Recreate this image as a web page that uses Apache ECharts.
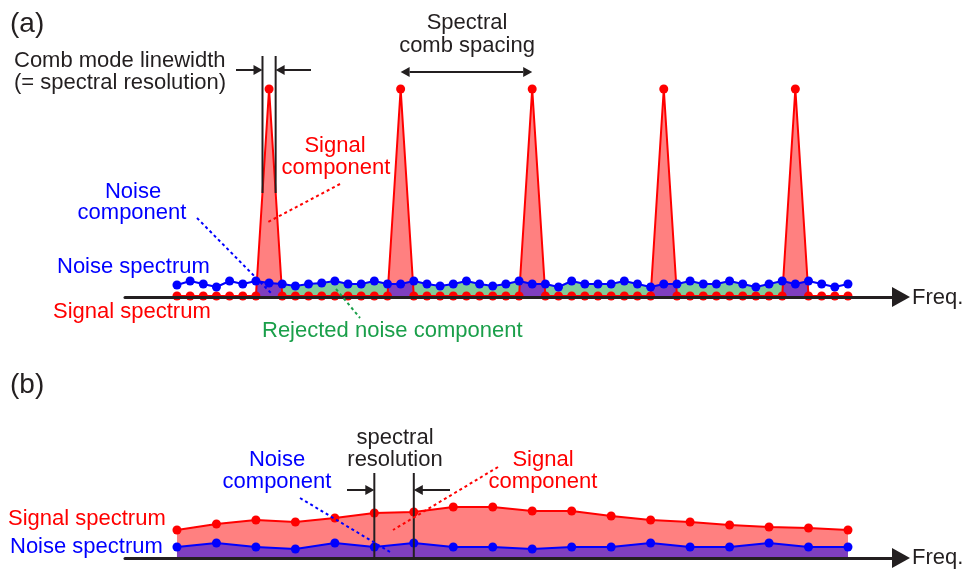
<!DOCTYPE html>
<html><head><meta charset="utf-8">
<script src="https://cdn.jsdelivr.net/npm/echarts@6/dist/echarts.min.js"></script>
<style>html,body{margin:0;padding:0;background:#fff}#c{width:964px;height:571px}</style>
</head><body><div id="c"></div>
<script>
// ---------- DATA (arbitrary intensity units) ----------
// Panel (a): comb-resolved spectrum, 52 frequency samples
const signalA = [1,1,1,1,1,1,1,208,1,1, 1,1,1,1,1,1,1,208,1,1, 1,1,1,1,1,1,1,208,1,1,
                 1,1,1,1,1,1,1,208,1,1, 1,1,1,1,1,1,1,208,1,1, 1,1];
const noiseA  = [12,16,13,10,16,13,16,14,13,11, 13,14,16,13,13,16,13,13,16,13,
                 11,13,16,13,11,13,16,13,13,10, 16,13,13,13,16,13,10,13,13,16,
                 13,13,16,13,10,13,16,13,16,13, 10,13];
const combPeaks = [7,17,27,37,47];       // sample index of each comb mode
const rejectedRange = [8,46];            // samples between first and last comb mode
// Panel (b): conventional spectrum, 18 frequency samples
const signalB = [28,34,38,36,40,45,46,51,51,47,47,42,38,36,33,31,30,28];
const noiseB  = [11,15,11,9,15,11,15,11,11,9,11,11,15,11,11,15,11,11];
const resolutionB = [5,6];               // samples bracketing the spectral resolution

// ---------- STYLE ----------
const FONT = '"Liberation Sans", Arial, sans-serif';
const RED = '#ff0000', BLUE = '#0000ff', BLACK = '#231f20', GREEN = '#1a9f4a';
const PINK = '#ff8080', PURPLE = '#7f3fbf', MINT = '#80cc99';

const pairs = arr => arr.map((v, i) => [i, v]);
const greenData = noiseA.map((v, i) => (i >= rejectedRange[0] && i <= rejectedRange[1]) ? [i, v] : [i, '-']);
const purpleData = noiseA.map((v, i) => combPeaks.some(p => Math.abs(i - p) <= 1) ? [i, v] : [i, '-']);

const axisX = (g, min, max) => ({
  type: 'value', gridIndex: g, min, max, z: 10,
  axisLine: { show: true, onZero: false, symbol: ['none', 'triangle'], symbolSize: [20, 18],
              lineStyle: { color: BLACK, width: 3 } },
  axisTick: { show: false }, axisLabel: { show: false }, splitLine: { show: false }
});

const option = {
  animation: false,
  grid: [
    { left: 125, right: 63, top: 77, height: 220 },
    { left: 125, right: 63, top: 498, height: 60 }
  ],
  xAxis: [axisX(0, -3.95, 55.03), axisX(1, -3.95 / 3, 55.03 / 3)],
  yAxis: [
    { type: 'value', gridIndex: 0, min: 0, max: 220, show: false },
    { type: 'value', gridIndex: 1, min: 0, max: 60, show: false }
  ],
  series: [
    { type: 'line', xAxisIndex: 0, yAxisIndex: 0, z: 2, data: pairs(signalA), symbol: 'none',
      lineStyle: { width: 0 }, areaStyle: { color: PINK, opacity: 1 }, silent: true },
    { type: 'line', xAxisIndex: 0, yAxisIndex: 0, z: 3, data: greenData, symbol: 'none',
      lineStyle: { width: 0 }, areaStyle: { color: MINT, opacity: 1 }, silent: true },
    { type: 'line', xAxisIndex: 0, yAxisIndex: 0, z: 4, data: purpleData, symbol: 'none',
      lineStyle: { width: 0 }, areaStyle: { color: PURPLE, opacity: 1 }, silent: true },
    { type: 'line', xAxisIndex: 0, yAxisIndex: 0, z: 5, data: pairs(signalA), symbol: 'circle',
      symbolSize: 9, showAllSymbol: true, itemStyle: { color: RED }, lineStyle: { color: RED, width: 2 }, silent: true },
    { type: 'line', xAxisIndex: 0, yAxisIndex: 0, z: 6, data: pairs(noiseA), symbol: 'circle',
      symbolSize: 9, showAllSymbol: true, itemStyle: { color: BLUE }, lineStyle: { color: BLUE, width: 2 }, silent: true },
    { type: 'line', xAxisIndex: 1, yAxisIndex: 1, z: 2, data: pairs(signalB), symbol: 'circle',
      symbolSize: 9, showAllSymbol: true, itemStyle: { color: RED }, lineStyle: { color: RED, width: 2 },
      areaStyle: { color: PINK, opacity: 1 }, silent: true },
    { type: 'line', xAxisIndex: 1, yAxisIndex: 1, z: 3, data: pairs(noiseB), symbol: 'circle',
      symbolSize: 9, showAllSymbol: true, itemStyle: { color: BLUE }, lineStyle: { color: BLUE, width: 2 },
      areaStyle: { color: PURPLE, opacity: 1 }, silent: true }
  ]
};

const chart = echarts.init(document.getElementById('c'), null, { renderer: 'canvas', width: 964, height: 571 });
chart.setOption(option);

// ---------- ANNOTATIONS ----------
const P = (g, x, y) => chart.convertToPixel({ gridIndex: g }, [x, y]);
function seg(x1, y1, x2, y2, color, dash, w) {
  return { type: 'line', silent: true, z: 100, shape: { x1, y1, x2, y2 },
           style: { stroke: color, lineWidth: w || 2, lineDash: dash || null } };
}
function head(xTip, y, dir, color) {
  const L = 9, H = 5;
  return { type: 'polygon', silent: true, z: 100,
           shape: { points: [[xTip, y], [xTip - dir * L, y - H], [xTip - dir * L, y + H]] },
           style: { fill: color } };
}
function arrow(xFrom, xTip, y, color) {
  const dir = xTip > xFrom ? 1 : -1;
  return [seg(xFrom, y, xTip - dir * 6, y, color), head(xTip, y, dir, color)];
}
function txt(text, x, y, color, size, align) {
  const a = align || 'left';
  return { type: 'text', silent: true, z: 100, x, y,
           style: { text, font: (size || 22) + 'px ' + FONT, fill: color,
                    textAlign: a, align: a, textVerticalAlign: 'middle', verticalAlign: 'middle' } };
}

const pk = combPeaks[0];
const lwL = P(0, pk - 0.5, 0)[0], lwR = P(0, pk + 0.5, 0)[0];
const spL = P(0, combPeaks[1], 0)[0], spR = P(0, combPeaks[2], 0)[0];
const rbL = P(1, resolutionB[0], 0)[0], rbR = P(1, resolutionB[1], 0)[0];
const baseB = P(1, 0, 0)[1];

const g = [];
// panel (a)
g.push(seg(lwL, 56, lwL, 193, BLACK), seg(lwR, 56, lwR, 193, BLACK));
g.push(...arrow(236, lwL, 70, BLACK), ...arrow(311, lwR, 70, BLACK));
g.push(seg(spL + 9, 72, spR - 9, 72, BLACK), head(spL, 72, -1, BLACK), head(spR, 72, 1, BLACK));
g.push(seg(340, 184, 268, 222, RED, [3, 3]));
g.push(seg(197, 218, 271, 293, BLUE, [3, 3]));
g.push(seg(336, 289, 360, 318, GREEN, [3, 3]));
g.push(txt('(a)', 10, 24, BLACK, 28));
g.push(txt('Comb mode linewidth', 14, 61, BLACK));
g.push(txt('(= spectral resolution)', 14, 83, BLACK));
g.push(txt('Spectral', 467, 23, BLACK, 22, 'center'));
g.push(txt('comb spacing', 467, 46, BLACK, 22, 'center'));
g.push(txt('Signal', 335, 146, RED, 22, 'center'));
g.push(txt('component', 336, 168, RED, 22, 'center'));
g.push(txt('Noise', 133, 192, BLUE, 22, 'center'));
g.push(txt('component', 132, 213, BLUE, 22, 'center'));
g.push(txt('Noise spectrum', 57, 267, BLUE));
g.push(txt('Signal spectrum', 53, 312, RED));
g.push(txt('Rejected noise component', 262, 331, GREEN));
g.push(txt('Freq.', 912, 298, BLACK));
// panel (b)
g.push(seg(rbL, 473, rbL, baseB, BLACK), seg(rbR, 473, rbR, baseB, BLACK));
g.push(...arrow(347, rbL, 490, BLACK), ...arrow(450, rbR, 490, BLACK));
g.push(seg(300, 498, 390, 552, BLUE, [3, 3]));
g.push(seg(498, 467, 393, 530, RED, [3, 3]));
g.push(txt('(b)', 10, 385, BLACK, 28));
g.push(txt('spectral', 395, 438, BLACK, 22, 'center'));
g.push(txt('resolution', 395, 460, BLACK, 22, 'center'));
g.push(txt('Noise', 277, 460, BLUE, 22, 'center'));
g.push(txt('component', 277, 482, BLUE, 22, 'center'));
g.push(txt('Signal', 543, 460, RED, 22, 'center'));
g.push(txt('component', 543, 482, RED, 22, 'center'));
g.push(txt('Signal spectrum', 8, 519, RED));
g.push(txt('Noise spectrum', 10, 547, BLUE));
g.push(txt('Freq.', 912, 558, BLACK));

chart.setOption({ graphic: { elements: g } });
</script>
</body></html>
